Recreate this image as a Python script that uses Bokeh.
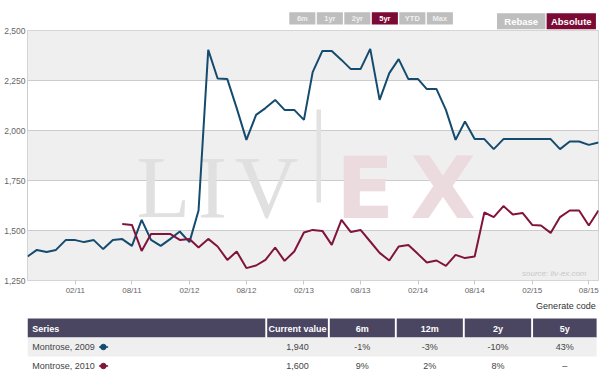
import numpy as np
import pandas as pd
from bokeh.plotting import figure
from bokeh.models import (Range1d, FixedTicker, NumeralTickFormatter, MonthsTicker,
                          DatetimeTickFormatter, BoxAnnotation, ColumnDataSource)
from bokeh.layouts import column
from bokeh.core.properties import value
from bokeh.embed import file_html
from bokeh.resources import INLINE

# ---------------- data ----------------
dates = pd.date_range("2010-09-01", periods=61, freq="MS")

montrose_2009 = [1370, 1403, 1393, 1403, 1452, 1452, 1442, 1452, 1407, 1452,
                 1457, 1423, 1553, 1453, 1423, 1457, 1495, 1442, 1600, 2403,
                 2260, 2257, 2112, 1953, 2078, 2112, 2153, 2103, 2103, 2053,
                 2292, 2398, 2398, 2353, 2307, 2307, 2408, 2153, 2287, 2357,
                 2257, 2257, 2207, 2207, 2103, 1953, 2045, 1957, 1957, 1907,
                 1957, 1957, 1957, 1957, 1957, 1957, 1907, 1945, 1945, 1928, 1940]

montrose_2010 = [None, None, None, None, None, None, None, None, None, None,
                 1532, 1528, 1398, 1483, 1483, 1483, 1453, 1458, 1415, 1458,
                 1420, 1353, 1395, 1312, 1325, 1353, 1415, 1348, 1395, 1490,
                 1503, 1498, 1428, 1553, 1492, 1503, 1445, 1388, 1350, 1420,
                 1428, 1382, 1340, 1350, 1323, 1378, 1362, 1370, 1590, 1567,
                 1622, 1580, 1588, 1528, 1525, 1488, 1567, 1600, 1600, 1525, 1600]

y_ticks = [1250, 1500, 1750, 2000, 2250, 2500]

range_buttons = ["6m", "1yr", "2yr", "5yr", "YTD", "Max"]
active_range = "5yr"
mode_buttons = ["Rebase", "Absolute"]
active_mode = "Absolute"

table_headers = ["Series", "Current value", "6m", "12m", "2y", "5y"]
series_names = ["Montrose, 2009", "Montrose, 2010"]
current_values = [1940, 1600]
chg_6m = ["-1%", "9%"]
chg_12m = ["-3%", "2%"]
chg_2y = ["-10%", "8%"]
chg_5y = ["43%", "\u2013"]

# ---------------- styles ----------------
BLUE = "#144b6e"
RED = "#80143c"
BURGUNDY = "#7b0a35"
BTN_GRAY = "#bebebe"
HEADER = "#4a4661"
FONT = value("Liberation Sans")

W = 602
Y_MIN, Y_MAX = y_ticks[0], y_ticks[-1]
FRAME_L, FRAME_R, FRAME_T, FRAME_B = 27, 598, 30, 280

# ---------------- top bar (buttons) ----------------
top = figure(width=W, height=30, x_range=Range1d(0, W), y_range=Range1d(30, 0),
             toolbar_location=None, output_backend="svg", min_border=0,
             x_axis_location=None, y_axis_location=None)
top.grid.visible = False
top.outline_line_color = None
top.background_fill_color = None
top.border_fill_color = None

bl = [276 + 29 * i for i in range(len(range_buttons))]
top.quad(left=bl, right=[v + 27.5 for v in bl], top=11.7, bottom=24,
         fill_color=[BURGUNDY if b == active_range else BTN_GRAY for b in range_buttons],
         line_color=None)
top.text(x=[v + 13.75 for v in bl], y=18, text=range_buttons, text_font=FONT,
         text_font_size="7.5px", text_font_style="bold", text_align="center",
         text_baseline="middle",
         text_color=["#ffffff" if b == active_range else "#f0f0f0" for b in range_buttons])

ml = [495, 547.3]
mr = [546, 599.3]
top.quad(left=ml, right=mr, top=12.7, bottom=28.7,
         fill_color=[BURGUNDY if b == active_mode else BTN_GRAY for b in mode_buttons],
         line_color=None)
top.text(x=[(a + b) / 2 for a, b in zip(ml, mr)], y=21, text=mode_buttons, text_font=FONT,
         text_font_size="9.5px", text_font_style="bold", text_align="center",
         text_baseline="middle", text_color="#ffffff")

# ---------------- main chart ----------------
p = figure(width=W, height=276, x_axis_type="datetime",
           x_range=Range1d(dates[0], dates[-1]), y_range=Range1d(Y_MIN, Y_MAX),
           toolbar_location=None, output_backend="svg",
           min_border_left=FRAME_L, min_border_right=W - FRAME_R,
           min_border_top=6, min_border_bottom=20)
p.margin = (-6, 0, 0, 0)
p.border_fill_color = None
p.background_fill_color = "#ffffff"
p.outline_line_color = "#cccccc"

x0, x1 = dates[0], dates[-1]


def sx(px):
    return x0 + (x1 - x0) * ((px - FRAME_L) / (FRAME_R - FRAME_L))


def sy(py):
    return Y_MAX - (Y_MAX - Y_MIN) * (py - FRAME_T) / (FRAME_B - FRAME_T)


for i in range(len(y_ticks) - 1):
    if i % 2 == 0:
        p.add_layout(BoxAnnotation(bottom=y_ticks[i], top=y_ticks[i + 1],
                                   fill_color="#efefef", fill_alpha=1,
                                   line_color=None, level="image"))

# watermark
p.text(x=[sx(163), sx(212), sx(266)], y=sy(187), text=["L", "I", "V"],
       text_font=value("Liberation Serif"), text_font_size="88px",
       text_align="center", text_baseline="alphabetic", text_color="#e0e0e0")
p.quad(left=sx(316), right=sx(320.5), top=sy(109), bottom=sy(202),
       fill_color="#e2e2e2", line_color=None)
p.text(x=[sx(364.5), sx(442.5)], y=sy(188), text=["E", "X"],
       text_font=value("DejaVu Sans"), text_font_size="85px", text_font_style="bold",
       text_align="center", text_baseline="alphabetic", text_color="#ebdade")
p.text(x=[sx(586)], y=[sy(272.5)], text=["source: liv-ex.com"], text_font=FONT,
       text_font_size="8px", text_font_style="italic", text_align="right",
       text_baseline="middle", text_color="#c8c8c8")

src = ColumnDataSource(dict(
    date=dates,
    m09=np.array(montrose_2009, dtype=float),
    m10=np.array([np.nan if v is None else v for v in montrose_2010], dtype=float),
))
p.line("date", "m09", source=src, color=BLUE, line_width=2)
p.line("date", "m10", source=src, color=RED, line_width=2)

p.yaxis.ticker = FixedTicker(ticks=y_ticks)
p.yaxis.formatter = NumeralTickFormatter(format="0,0")
p.yaxis.axis_line_color = None
p.yaxis.major_tick_line_color = None
p.yaxis.minor_tick_line_color = None
p.yaxis.major_tick_out = 0
p.yaxis.major_label_standoff = 2
p.yaxis.major_label_text_font = "Liberation Sans"
p.yaxis.major_label_text_font_size = "8.5px"
p.yaxis.major_label_text_color = "#666666"

p.xaxis.ticker = MonthsTicker(months=[1, 7])
p.xaxis.formatter = DatetimeTickFormatter(months="%m/%y", days="%m/%y", years="%m/%y")
p.xaxis.axis_line_color = None
p.xaxis.major_tick_line_color = "#c8c8c8"
p.xaxis.major_tick_out = 4
p.xaxis.major_tick_in = 0
p.xaxis.minor_tick_line_color = None
p.xaxis.major_label_standoff = 1
p.xaxis.major_label_text_font = "Liberation Sans"
p.xaxis.major_label_text_font_size = "8px"
p.xaxis.major_label_text_color = "#666666"

p.xgrid.grid_line_color = None
p.ygrid.grid_line_color = "#cccccc"

# ---------------- bottom (table) ----------------
bot = figure(width=W, height=75, x_range=Range1d(0, W), y_range=Range1d(75, 0),
             toolbar_location=None, output_backend="svg", min_border=0,
             x_axis_location=None, y_axis_location=None)
bot.grid.visible = False
bot.outline_line_color = None
bot.background_fill_color = None
bot.border_fill_color = None

bot.text(x=[599], y=[5], text=["Generate code"], text_font=FONT, text_font_size="9px",
         text_align="right", text_baseline="middle", text_color="#333333")

col_l = [0, 252.7, 318.7, 389.3, 461, 533]
col_r = [250.7, 316.7, 387.3, 459, 531, 600]
col_c = [(a + b) / 2 for a, b in zip(col_l, col_r)]
hdr_t, row_h = 18, 19
bot.quad(left=col_l, right=col_r, top=hdr_t, bottom=hdr_t + row_h,
         fill_color=HEADER, line_color=None)
bot.quad(left=[0], right=[600], top=[hdr_t + row_h], bottom=[hdr_t + 2 * row_h],
         fill_color="#efefef", line_color=None)
bot.text(x=[5] + col_c[1:], y=hdr_t + row_h / 2 + 0.5, text=table_headers, text_font=FONT,
         text_font_size="9px", text_font_style="bold",
         text_align=["left"] + ["center"] * 5, text_baseline="middle", text_color="#ffffff")

row_y = [hdr_t + row_h * 1.5, hdr_t + row_h * 2.5]
colors = [BLUE, RED]
bot.text(x=5, y=row_y, text=series_names, text_font=FONT, text_font_size="9px",
         text_align="left", text_baseline="middle", text_color="#444444")
bot.segment(x0=75.5, x1=85, y0=row_y, y1=row_y, line_color=colors, line_width=1.5)
bot.scatter(x=80, y=row_y, size=5.5, fill_color=colors, line_color=colors)
for j, col in enumerate([[f"{v:,}" for v in current_values], chg_6m, chg_12m, chg_2y, chg_5y]):
    bot.text(x=col_c[j + 1], y=row_y, text=col, text_font=FONT, text_font_size="9px",
             text_align="center", text_baseline="middle", text_color="#444444")

layout = column(top, p, bot, spacing=0)
open("out.html", "w").write(file_html(layout, INLINE))
